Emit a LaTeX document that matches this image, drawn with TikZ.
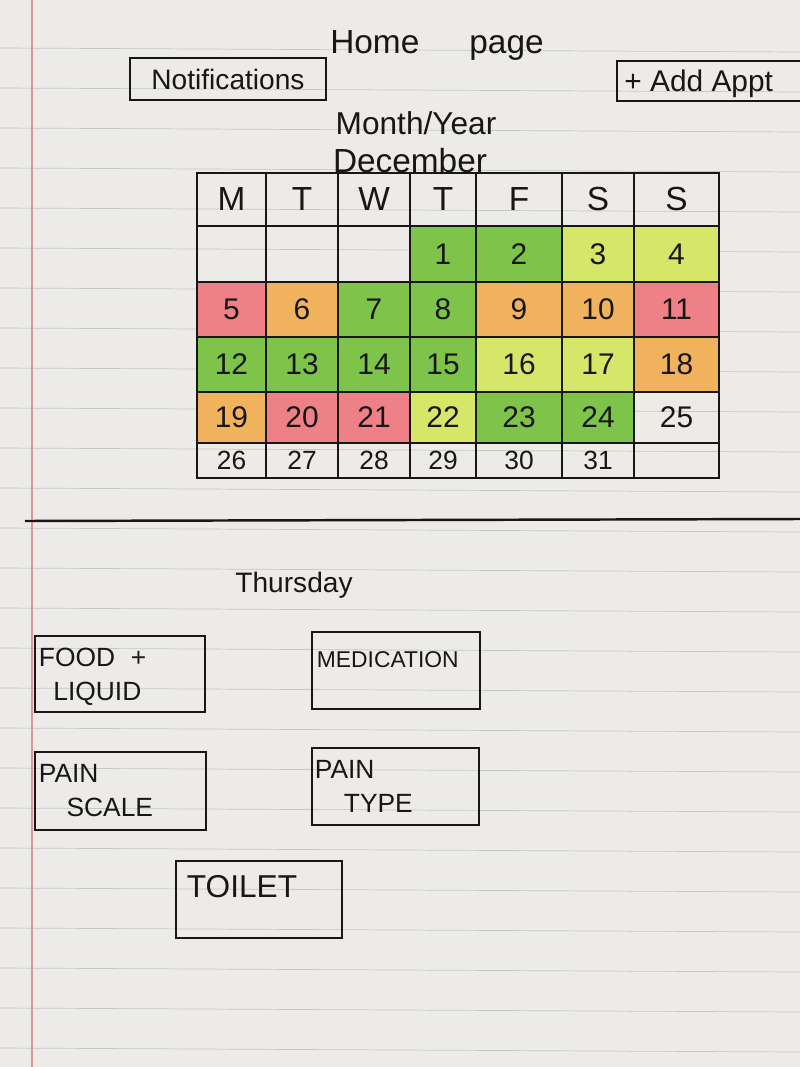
\documentclass[tikz,border=0pt]{standalone}
\usepackage{fontspec}
\setmainfont{Liberation Sans}
\usetikzlibrary{fit}

\definecolor{paper}{RGB}{236,235,231}
\definecolor{ruleline}{RGB}{196,198,202}
\definecolor{marginline}{RGB}{218,150,156}
\definecolor{ink}{RGB}{24,22,22}
\definecolor{hlgreen}{RGB}{126,196,74}
\definecolor{hlyellow}{RGB}{214,230,104}
\definecolor{hlorange}{RGB}{241,178,94}
\definecolor{hlred}{RGB}{238,128,136}

\tikzset{
  cell/.style={draw=ink, line width=1.4pt, inner sep=0pt},
  num/.style={text=ink, inner sep=0pt, font=\fontsize{17}{17}\selectfont},
  btn/.style={draw=ink, line width=1.6pt, inner sep=0pt},
  caption/.style={text=ink, inner sep=0pt},
  boxlbl/.style={text=ink, inner sep=0pt, anchor=west, align=left,
    font=\fontsize{15}{19}\selectfont}
}

\begin{document}
\begin{tikzpicture}[x=0.02cm, y=-0.02cm]
  \useasboundingbox (0,0) rectangle (800,1067);
  % paper
  \fill[paper] (0,0) rectangle (800,1067);
  \foreach \yy in {48,88,...,1067}
    \draw[ruleline, line width=0.4pt] (0,\yy) -- (800,\yy+4);
  \draw[marginline, line width=0.6pt] (32,0) -- (32,1067);

  % header
  \node[caption, font=\fontsize{19}{19}\selectfont] (home) at (437,45) {Home\hspace{1.5em}page};
  \node[btn, fit={(130,58) (326,100)}] (notif) {};
  \node[caption, font=\fontsize{16}{16}\selectfont] (notiflbl) at (notif) {Notifications};
  \node[btn, fit={(617,61) (812,101)}] (addbox) {};
  \node[caption, font=\fontsize{17}{17}\selectfont, anchor=west] (addappt) at (624,84) {+ Add Appt};
  \node[caption, font=\fontsize{18}{18}\selectfont] (monthyear) at (416,123) {Month/Year};
  \node[caption, font=\fontsize{19}{19}\selectfont] (month) at (410,161) {December};

  % calendar
  \foreach \xa/\xb/\n [count=\c] in {197/266/M, 266/338/T, 338/410/W, 410/476/T, 476/562/F, 562/634/S, 634/719/S} {
    \node[cell, fit={(\xa,173) (\xb,226)}] (c0-\c) {};
    \node[num, font=\fontsize{19}{19}\selectfont] (n0-\c) at (c0-\c) {\n};
  }
  \foreach \xa/\xb/\col/\n [count=\c] in {197/266/none/{}, 266/338/none/{}, 338/410/none/{}, 410/476/hlgreen/1, 476/562/hlgreen/2, 562/634/hlyellow/3, 634/719/hlyellow/4} {
    \node[cell, fill=\col, fit={(\xa,226) (\xb,282)}] (c1-\c) {};
    \node[num] (n1-\c) at (c1-\c) {\n};
  }
  \foreach \xa/\xb/\col/\n [count=\c] in {197/266/hlred/5, 266/338/hlorange/6, 338/410/hlgreen/7, 410/476/hlgreen/8, 476/562/hlorange/9, 562/634/hlorange/10, 634/719/hlred/11} {
    \node[cell, fill=\col, fit={(\xa,282) (\xb,337)}] (c2-\c) {};
    \node[num] (n2-\c) at (c2-\c) {\n};
  }
  \foreach \xa/\xb/\col/\n [count=\c] in {197/266/hlgreen/12, 266/338/hlgreen/13, 338/410/hlgreen/14, 410/476/hlgreen/15, 476/562/hlyellow/16, 562/634/hlyellow/17, 634/719/hlorange/18} {
    \node[cell, fill=\col, fit={(\xa,337) (\xb,392)}] (c3-\c) {};
    \node[num] (n3-\c) at (c3-\c) {\n};
  }
  \foreach \xa/\xb/\col/\n [count=\c] in {197/266/hlorange/19, 266/338/hlred/20, 338/410/hlred/21, 410/476/hlyellow/22, 476/562/hlgreen/23, 562/634/hlgreen/24, 634/719/none/25} {
    \node[cell, fill=\col, fit={(\xa,392) (\xb,443)}] (c4-\c) {};
    \node[num] (n4-\c) at (c4-\c) {\n};
  }
  \foreach \xa/\xb/\n [count=\c] in {197/266/26, 266/338/27, 338/410/28, 410/476/29, 476/562/30, 562/634/31, 634/719/{}} {
    \node[cell, fit={(\xa,443) (\xb,478)}] (c5-\c) {};
    \node[num, font=\fontsize{15}{15}\selectfont] (n5-\c) at (c5-\c) {\n};
  }

  % divider
  \draw[ink, line width=1.4pt] (25,521) -- (800,519);

  % day view
  \node[caption, font=\fontsize{16}{16}\selectfont] (day) at (294,585) {Thursday};

  \node[btn, fit={(35,636) (205,712)}] (food) {};
  \node[boxlbl] (foodlbl) at ([shift={(5,42)}]food.north west) {FOOD\hspace{0.6em}+\\\hspace{0.55em}LIQUID};
  \node[btn, fit={(312,632) (480,709)}] (med) {};
  \node[boxlbl, font=\fontsize{13}{15}\selectfont] (medlbl) at ([shift={(6,29)}]med.north west) {MEDICATION};
  \node[btn, fit={(35,752) (206,830)}] (scale) {};
  \node[boxlbl] (scalelbl) at ([shift={(5,40)}]scale.north west) {PAIN\\\hspace{1.05em}SCALE};
  \node[btn, fit={(312,748) (479,825)}] (type) {};
  \node[boxlbl] (typelbl) at ([shift={(4,40)}]type.north west) {PAIN\\\hspace{1.1em}TYPE};
  \node[btn, fit={(176,861) (342,938)}] (toilet) {};
  \node[boxlbl, font=\fontsize{18}{18}\selectfont] (toiletlbl) at ([shift={(12,27)}]toilet.north west) {TOILET};
\end{tikzpicture}
\end{document}
